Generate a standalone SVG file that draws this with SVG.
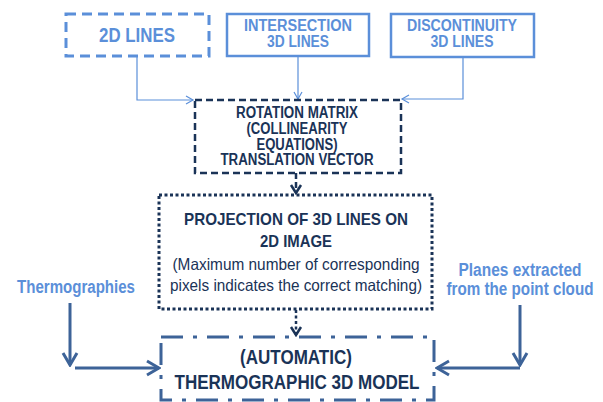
<svg xmlns="http://www.w3.org/2000/svg" width="603" height="402" viewBox="0 0 603 402">
  <style>
    text { font-family: "Liberation Sans Narrow", "Liberation Sans", Arial, sans-serif; text-anchor: middle; }
    .lt { fill: #5b8fd9; font-weight: bold; }
    .dk { fill: #1a3357; font-weight: bold; }
    .dkn { fill: #1a3357; font-weight: normal; }
    .inbox { fill: #ffffff; stroke: #5b8fd9; stroke-width: 2.5; }
    .thin { fill: none; stroke: #5b8fd9; stroke-width: 1.2; }
    .steel { fill: none; stroke: #3d6398; stroke-width: 3; }
  </style>
  <defs>
    <marker id="arrLight" viewBox="-10 -6 12 12" refX="0" refY="0" markerWidth="12" markerHeight="12" markerUnits="userSpaceOnUse" orient="auto">
      <path d="M-7,-4 L0,0 L-7,4" fill="none" stroke="#5b8fd9" stroke-width="1.2"/>
    </marker>
    <marker id="arrDark" viewBox="-10 -8 12 16" refX="0" refY="0" markerWidth="12" markerHeight="16" markerUnits="userSpaceOnUse" orient="auto">
      <path d="M-8,-5 L0,0 L-8,5" fill="none" stroke="#1a3357" stroke-width="2.5"/>
    </marker>
    <marker id="arrSteel" viewBox="-14 -9 16 18" refX="0" refY="0" markerWidth="16" markerHeight="18" markerUnits="userSpaceOnUse" orient="auto">
      <path d="M-12,-7 L0,0 L-12,7" fill="none" stroke="#3d6398" stroke-width="3"/>
    </marker>
  </defs>

  <!-- connectors -->
  <g id="connectors">
    <path class="thin" d="M137,56 V100 H193" marker-end="url(#arrLight)"/>
    <path class="thin" d="M298,56 V99" marker-end="url(#arrLight)"/>
    <path class="thin" d="M463,57 V99 H402" marker-end="url(#arrLight)"/>
    <path d="M296,173 V193" fill="none" stroke="#1a3357" stroke-width="2.5" stroke-dasharray="6 3" marker-end="url(#arrDark)"/>
    <path d="M296,310 V335" fill="none" stroke="#1a3357" stroke-width="2.5" stroke-dasharray="3 2.5" marker-end="url(#arrDark)"/>
    <path class="steel" d="M70,303 V365" marker-end="url(#arrSteel)"/>
    <path class="steel" d="M75,368 H159" marker-end="url(#arrSteel)"/>
    <path class="steel" d="M520,305 V365" marker-end="url(#arrSteel)"/>
    <path class="steel" d="M520,368 H437" marker-end="url(#arrSteel)"/>
  </g>

  <!-- 2D lines -->
  <g id="lines2d">
    <rect x="66" y="14" width="143" height="42" fill="#ffffff" stroke="#5b8fd9" stroke-width="3" stroke-dasharray="10 6"/>
    <text class="lt" x="137" y="42" font-size="21" textLength="76" lengthAdjust="spacingAndGlyphs">2D LINES</text>
  </g>

  <!-- intersection 3D lines -->
  <g id="intersection">
    <rect class="inbox" x="227" y="14" width="142" height="42"/>
    <text class="lt" x="298" y="31" font-size="16" textLength="108" lengthAdjust="spacingAndGlyphs">INTERSECTION</text>
    <text class="lt" x="298" y="47" font-size="16" textLength="62" lengthAdjust="spacingAndGlyphs">3D LINES</text>
  </g>

  <!-- discontinuity 3D lines -->
  <g id="discontinuity">
    <rect class="inbox" x="391" y="14" width="143" height="43"/>
    <text class="lt" x="462" y="31" font-size="16" textLength="110" lengthAdjust="spacingAndGlyphs">DISCONTINUITY</text>
    <text class="lt" x="462" y="47" font-size="16" textLength="63" lengthAdjust="spacingAndGlyphs">3D LINES</text>
  </g>

  <!-- rotation / translation -->
  <g id="rotation">
    <rect x="195" y="100" width="206" height="73" fill="#ffffff" stroke="#1a3357" stroke-width="2.5" stroke-dasharray="7 4"/>
    <text class="dk" x="297" y="118" font-size="16" textLength="122" lengthAdjust="spacingAndGlyphs">ROTATION MATRIX</text>
    <text class="dk" x="297" y="134" font-size="16" textLength="101" lengthAdjust="spacingAndGlyphs">(COLLINEARITY</text>
    <text class="dk" x="297" y="149.5" font-size="16" textLength="81" lengthAdjust="spacingAndGlyphs">EQUATIONS)</text>
    <text class="dk" x="297" y="165" font-size="16" textLength="153" lengthAdjust="spacingAndGlyphs">TRANSLATION VECTOR</text>
  </g>

  <!-- projection -->
  <g id="projection">
    <rect x="159" y="195" width="273" height="114" fill="#ffffff" stroke="#1a3357" stroke-width="3" stroke-dasharray="3 2.5"/>
    <text class="dk" x="296" y="225" font-size="17" textLength="224" lengthAdjust="spacingAndGlyphs">PROJECTION  OF 3D LINES ON</text>
    <text class="dk" x="296" y="247" font-size="17" textLength="72" lengthAdjust="spacingAndGlyphs">2D IMAGE</text>
    <text class="dkn" x="296" y="270" font-size="16.5" textLength="247" lengthAdjust="spacingAndGlyphs">(Maximum number of corresponding</text>
    <text class="dkn" x="296" y="291" font-size="16.5" textLength="252" lengthAdjust="spacingAndGlyphs">pixels indicates the correct matching)</text>
  </g>

  <!-- side inputs -->
  <g id="thermographies">
    <text class="lt" x="76" y="293" font-size="18" textLength="118" lengthAdjust="spacingAndGlyphs">Thermographies</text>
  </g>
  <g id="planes">
    <text class="lt" x="520" y="276" font-size="17.5" textLength="123" lengthAdjust="spacingAndGlyphs">Planes extracted</text>
    <text class="lt" x="520" y="295" font-size="17.5" textLength="147" lengthAdjust="spacingAndGlyphs">from the point cloud</text>
  </g>

  <!-- final model -->
  <g id="model">
    <rect x="161" y="337" width="273" height="63" fill="#ffffff" stroke="#3d6398" stroke-width="3" stroke-dasharray="22 10 4 10"/>
    <text class="dk" x="296" y="364" font-size="20" textLength="112" lengthAdjust="spacingAndGlyphs">(AUTOMATIC)</text>
    <text class="dk" x="297" y="389" font-size="20" textLength="245" lengthAdjust="spacingAndGlyphs">THERMOGRAPHIC  3D MODEL</text>
  </g>
</svg>
